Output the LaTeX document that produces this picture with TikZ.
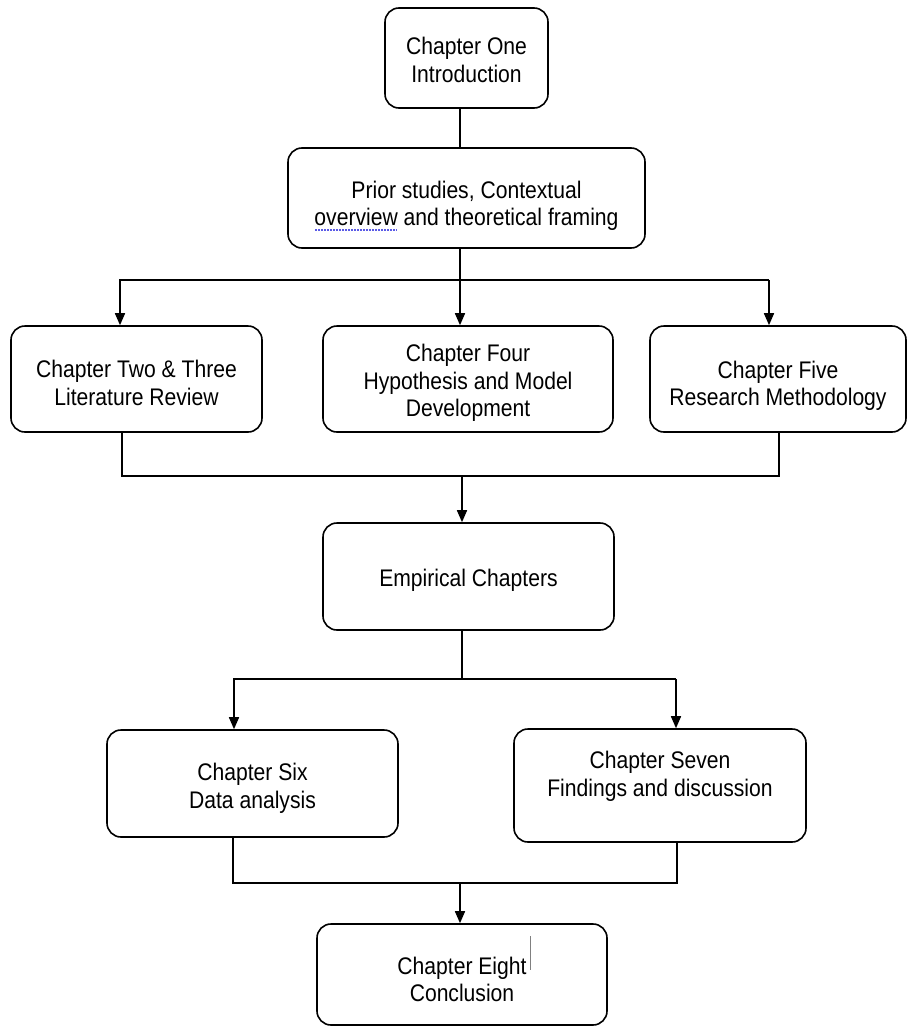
\documentclass[tikz,border=0pt]{standalone}
\usepackage{fontspec}
\setmainfont[FakeStretch=0.88]{Liberation Sans}
\usetikzlibrary{arrows.meta}
\definecolor{spell}{RGB}{90,90,230}
\begin{document}
\begin{tikzpicture}[x=1pt,y=-1pt,
  box/.style={draw, line width=1.6pt, rounded corners=14pt, inner sep=0pt},
  lab/.style={align=center, inner sep=0pt, font=\fontsize{24}{27.5}\selectfont},
  link/.style={line width=1.6pt},
  arr/.style={line width=1.6pt, -{Triangle[length=12pt,width=10pt]}}]
\useasboundingbox (0,0) rectangle (909,1028);

% boxes (text as centred labels, shifted as in the reference)
\node[box, minimum width=163pt, minimum height=100pt,
      label={[lab, name=onet, yshift=-2pt]center:Chapter One\\Introduction}] (one) at (466.5,58) {};
\node[box, minimum width=357pt, minimum height=100pt,
      label={[lab, name=priort, yshift=-8pt]center:Prior studies, Contextual\\overview and theoretical framing}] (prior) at (466.5,198) {};
\node[box, minimum width=251pt, minimum height=106pt,
      label={[lab, name=twot, yshift=-4pt]center:Chapter Two \& Three\\Literature Review}] (two) at (136.5,379) {};
\node[box, minimum width=290pt, minimum height=106pt,
      label={[lab, name=fourt, yshift=-4pt]center:Chapter Four\\Hypothesis and Model\\Development}] (four) at (468,379) {};
\node[box, minimum width=256pt, minimum height=106pt,
      label={[lab, name=fivet, yshift=-7pt]center:Chapter Five\\Research Methodology}] (five) at (778,379) {};
\node[box, minimum width=291pt, minimum height=107pt,
      label={[lab, name=empt, yshift=-4pt]center:Empirical Chapters}] (emp) at (468.5,576.5) {};
\node[box, minimum width=291pt, minimum height=107pt,
      label={[lab, name=sixt, yshift=-5pt]center:Chapter Six\\Data analysis}] (six) at (252.5,783.5) {};
\node[box, minimum width=292pt, minimum height=113pt,
      label={[lab, name=sevent, yshift=9pt]center:Chapter Seven\\Findings and discussion}] (seven) at (660,785.5) {};
\node[box, minimum width=290pt, minimum height=101pt,
      label={[lab, name=eightt, yshift=-5pt]center:Chapter Eight\\Conclusion}] (eight) at (462,974.5) {};

% spell-check underline and text cursor
\draw[spell, line width=1.2pt, dash pattern=on 1.5pt off 1.5pt] (315,230) -- (397,230);
\draw[gray, line width=0.7pt] (530,936) -- (530,970);

% connectors
\draw[link] ([xshift=-6.5pt]one.south) -- ([xshift=-6.5pt]prior.north);
\draw[arr] ([xshift=-6.5pt]prior.south) -- ([xshift=-8pt]four.north);

\coordinate (bl) at (120,280);
\coordinate (br) at (769,280);
\draw[arr] (br) -- (bl) -- (bl |- two.north);
\draw[arr] (br) -- (br |- five.north);

\coordinate (m1) at (462,476);
\draw[link] ([xshift=-14.5pt]two.south) |- (m1) -| ([xshift=1pt]five.south);
\draw[arr] (m1) -- (m1 |- emp.north);

\coordinate (s1) at (462,679);
\coordinate (sl) at (234,679);
\coordinate (sr) at (676,679);
\draw[link] ([xshift=-6.5pt]emp.south) -- (s1);
\draw[arr] (sr) -- (sl) -- (sl |- six.north);
\draw[arr] (sr) -- (sr |- seven.north);

\coordinate (m2) at (460,883);
\draw[link] ([xshift=-19.5pt]six.south) |- (m2) -| ([xshift=17pt]seven.south);
\draw[arr] (m2) -- (m2 |- eight.north);
\end{tikzpicture}
\end{document}
